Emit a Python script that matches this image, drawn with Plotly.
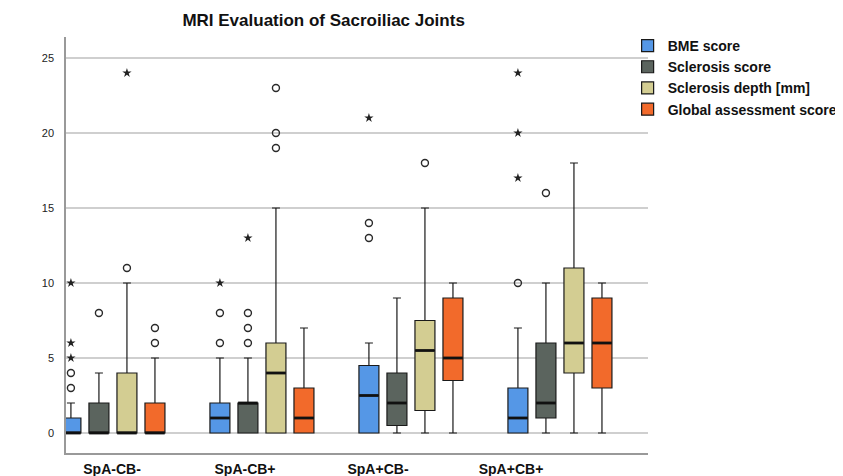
import plotly.graph_objects as go

categories = ["SpA-CB-", "SpA-CB+", "SpA+CB-", "SpA+CB+"]
series = ["BME score", "Sclerosis score", "Sclerosis depth [mm]", "Global assessment score"]
colors = ["#5597E6", "#5B645E", "#D3CD92", "#F26A2B"]

# per series: values per category
lower = [[0, 0, 0, 0], [0, 0, 0, 0], [0, 0, 0, 0], [0, 0, 0, 0]]
q1 = [[0, 0, 0, 0], [0, 0, 0.5, 1], [0, 0, 1.5, 4], [0, 0, 3.5, 3]]
median = [[0, 1, 2.5, 1], [0, 2, 2, 2], [0, 4, 5.5, 6], [0, 1, 5, 6]]
q3 = [[1, 2, 4.5, 3], [2, 2, 4, 6], [4, 6, 7.5, 11], [2, 3, 9, 9]]
upper = [[2, 5, 6, 7], [4, 5, 9, 10], [10, 15, 15, 18], [5, 7, 10, 10]]

# outliers (circles) and extremes (stars), per series then per category
circles = [
    [[3, 4], [6, 8], [13, 14], [10]],
    [[8], [6, 7, 8], [], [16]],
    [[11], [19, 20, 23], [18], []],
    [[6, 7], [], [], []],
]
stars = [
    [[5, 6, 10], [10], [21], [17, 20, 24]],
    [[], [13], [], []],
    [[24], [], [], []],
    [[], [], [], []],
]

yticks = [0, 5, 10, 15, 20, 25]

pitch = 0.188
box_w = 0.134
nser = len(series)

fig = go.Figure()
for k, name in enumerate(series):
    xs = [i + (k - (nser - 1) / 2) * pitch for i in range(len(categories))]
    fig.add_trace(go.Box(
        x=xs, q1=q1[k], median=median[k], q3=q3[k],
        lowerfence=lower[k], upperfence=upper[k],
        width=box_w, name="<b>" + name + "</b>", fillcolor=colors[k],
        line=dict(color="#1a1a1a", width=1.2), whiskerwidth=0.4,
        boxpoints=False, showlegend=True, hoverinfo="skip",
    ))
for k, name in enumerate(series):
    xs = [i + (k - (nser - 1) / 2) * pitch for i in range(len(categories))]
    fig.add_trace(go.Scatter(
        x=xs, y=median[k], mode="markers", showlegend=False, hoverinfo="skip",
        marker=dict(symbol="line-ew", size=14, line=dict(color="#111", width=2.8)),
    ))
    cx, cy, sx, sy = [], [], [], []
    for i in range(len(categories)):
        for v in circles[k][i]:
            cx.append(xs[i]); cy.append(v)
        for v in stars[k][i]:
            sx.append(xs[i]); sy.append(v)
    if cx:
        fig.add_trace(go.Scatter(
            x=cx, y=cy, mode="markers", showlegend=False,
            marker=dict(symbol="circle-open", size=7, color="#2a2a2a", line=dict(width=1.4)),
        ))
    if sx:
        fig.add_trace(go.Scatter(
            x=sx, y=sy, mode="markers", showlegend=False,
            marker=dict(symbol="star", size=7, color="#222"),
        ))

# carrier for the category axis labels (draws nothing)
fig.add_trace(go.Scatter(x=list(range(len(categories))), y=[None] * len(categories),
                         xaxis="x2", yaxis="y", mode="markers", showlegend=False,
                         hoverinfo="skip", marker=dict(opacity=0)))

fig.update_layout(
    width=835, height=468,
    margin=dict(l=58, r=195, t=29, b=23, autoexpand=False),
    paper_bgcolor="white", plot_bgcolor="white",
    font=dict(family="Liberation Sans, Arial, sans-serif", color="#222"),
    title=dict(text="<b>MRI Evaluation of Sacroiliac Joints</b>", font=dict(size=17, color="#111"),
               xref="container", x=0.378, xanchor="center", yref="container", y=0.974, yanchor="middle"),
    xaxis=dict(range=[-0.315, 3.591], showticklabels=False, showgrid=False, zeroline=False,
               showline=True, linecolor="#999", linewidth=1.5, ticks=""),
    xaxis2=dict(overlaying="x", anchor="y", side="bottom", range=[-0.346, 4.030],
                tickvals=list(range(len(categories))), ticktext=["<b>" + c + "</b>" for c in categories],
                showgrid=False, zeroline=False, showline=False, ticks="",
                tickfont=dict(size=14, color="#111", family="Liberation Sans, Arial, sans-serif"),
                ticklabelstandoff=6),
    yaxis=dict(range=[-1.333, 26.4], tickvals=yticks, showgrid=True, gridcolor="#CFCFCF", gridwidth=1.5,
               zeroline=False, showline=True, linecolor="#999", linewidth=1.5, ticks="",
               tickfont=dict(size=11, color="#222"), ticklabelstandoff=8),
    legend=dict(x=0.965, xanchor="left", y=1.017, yanchor="top", bgcolor="rgba(0,0,0,0)",
                font=dict(size=14, color="#111"), itemwidth=30, tracegroupgap=0),
    showlegend=True,
)

fig.write_html("out.html")
